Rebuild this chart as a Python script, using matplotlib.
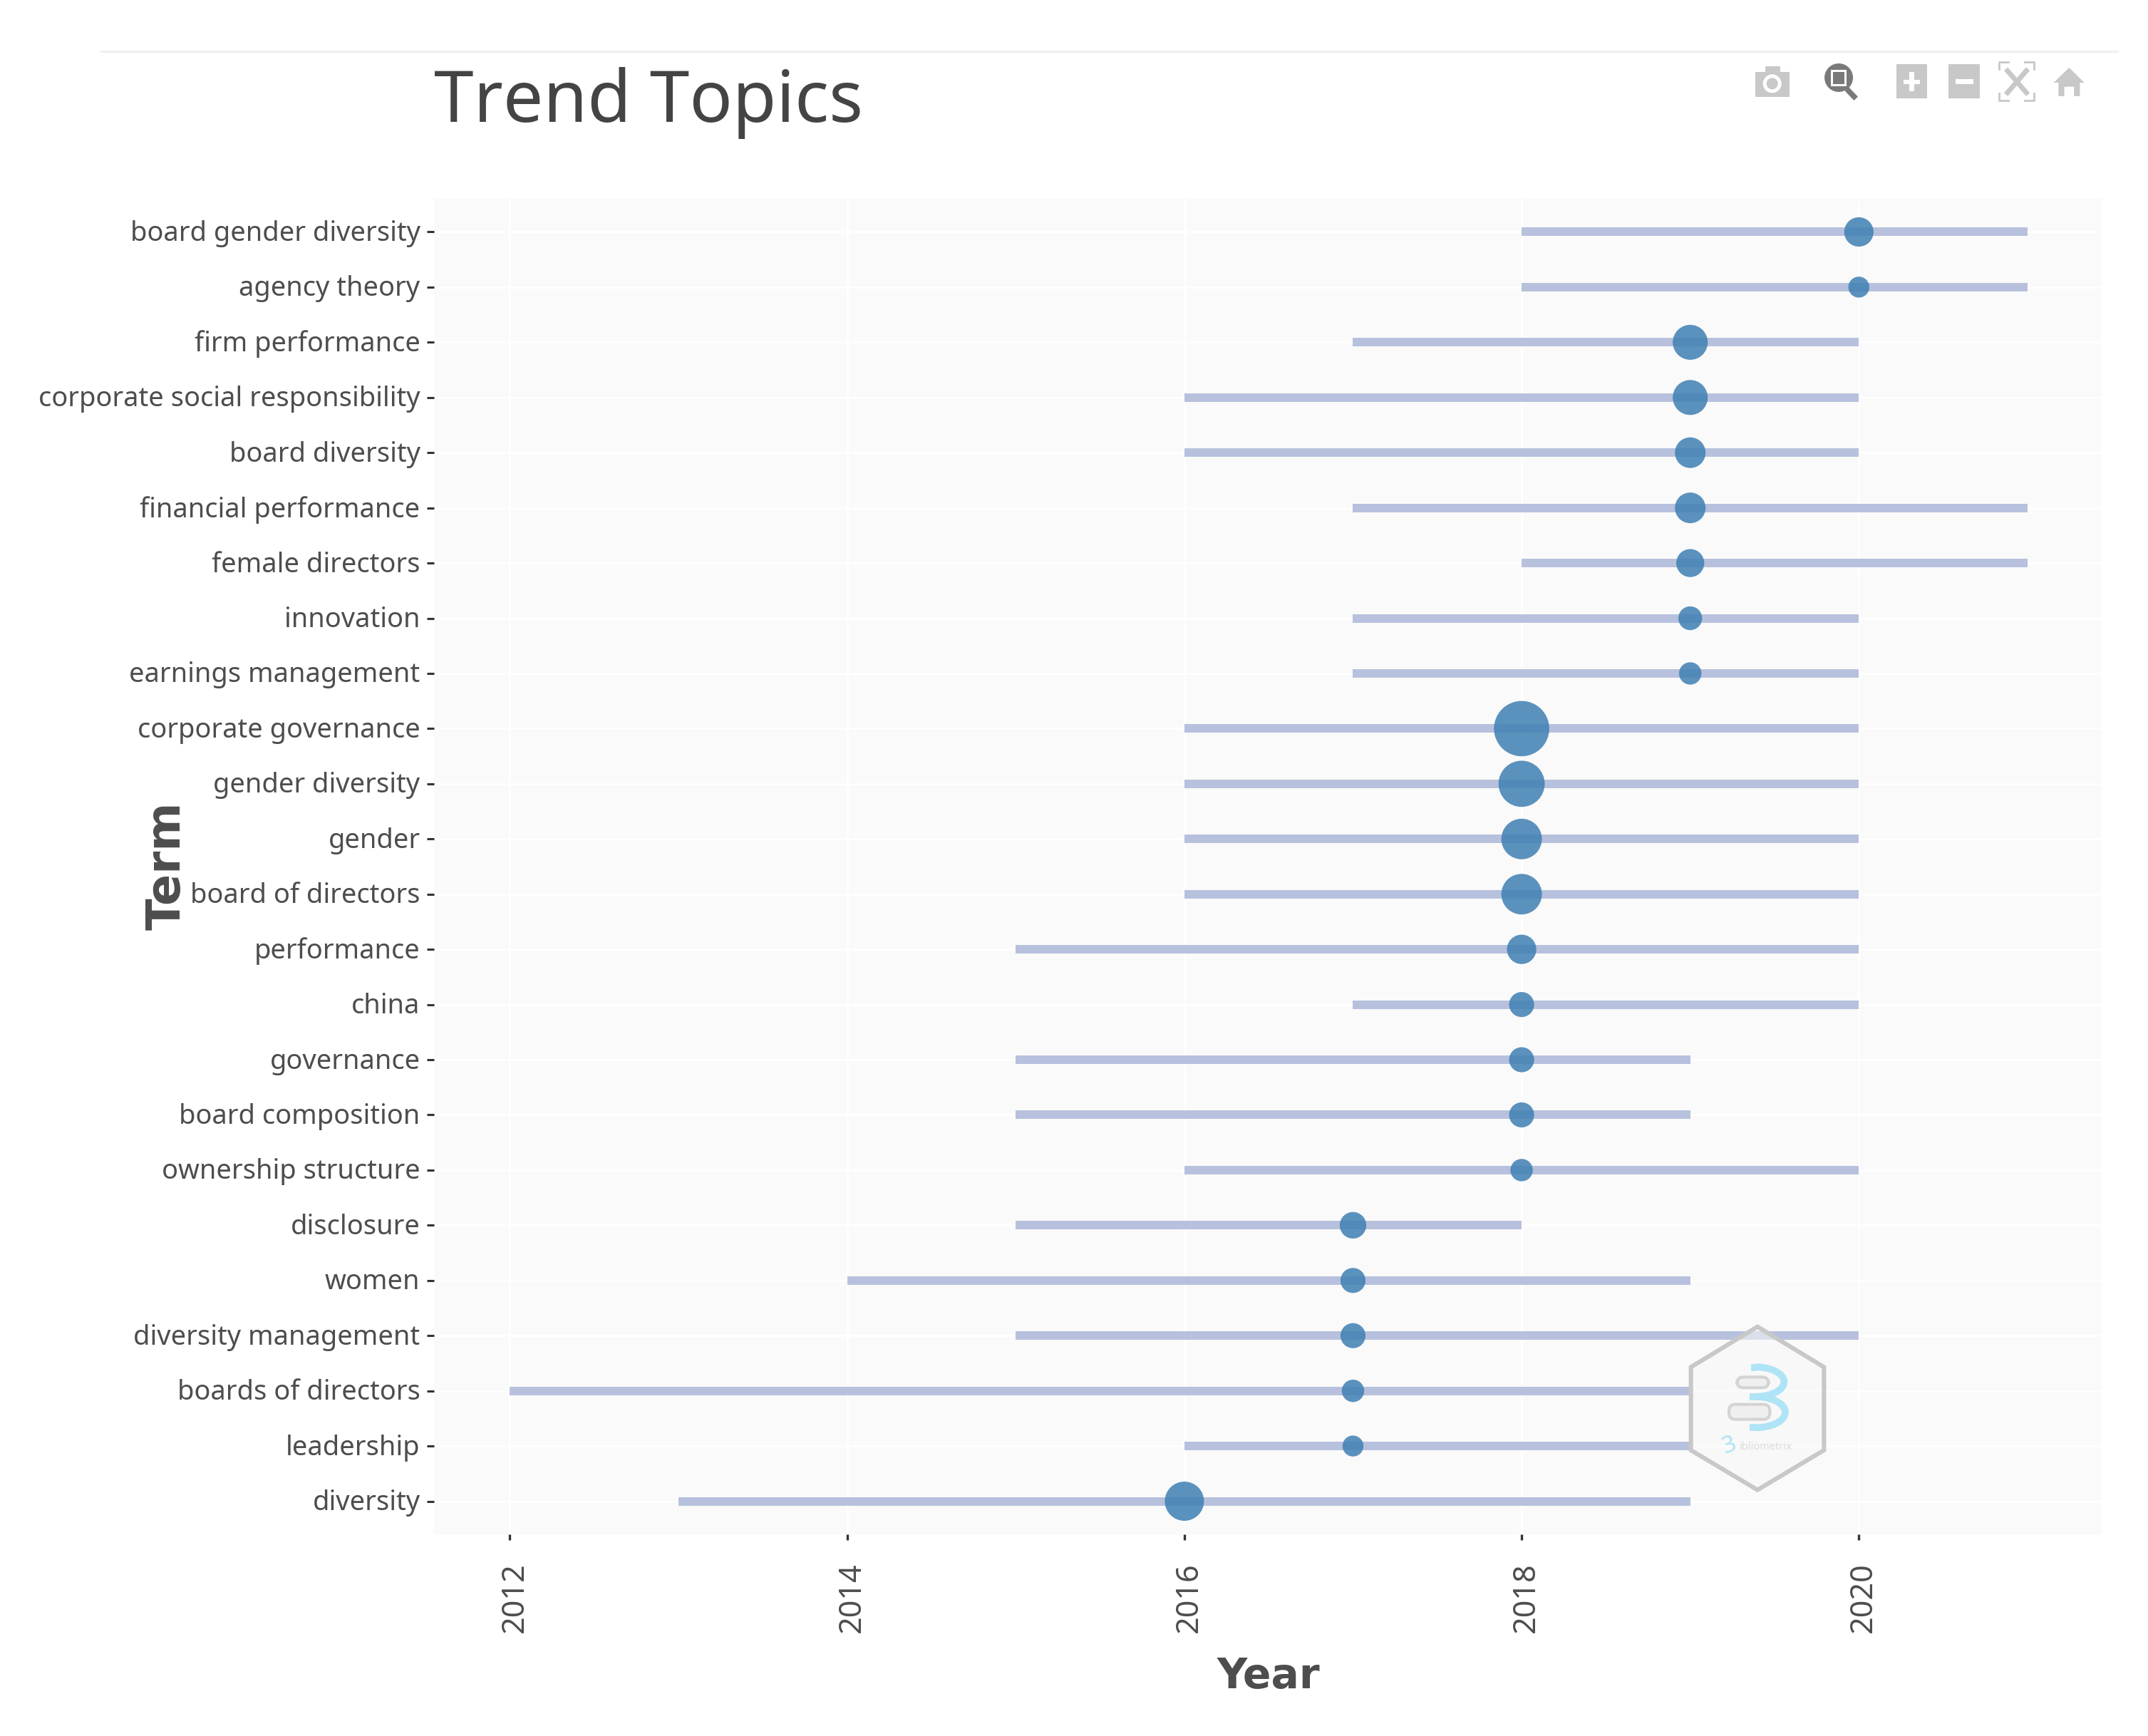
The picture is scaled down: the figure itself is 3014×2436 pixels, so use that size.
import matplotlib
matplotlib.use("Agg")
import matplotlib.pyplot as plt
from matplotlib.patches import Polygon, Rectangle, Circle, FancyBboxPatch, Arc
from matplotlib.transforms import ScaledTranslation

#terms from top to bottom of the chart
terms = ["board gender diversity", "agency theory", "firm performance",
         "corporate social responsibility", "board diversity", "financial performance",
         "female directors", "innovation", "earnings management", "corporate governance",
         "gender diversity", "gender", "board of directors", "performance", "china",
         "governance", "board composition", "ownership structure", "disclosure", "women",
         "diversity management", "boards of directors", "leadership", "diversity"]
year_start = [2018, 2018, 2017, 2016, 2016, 2017, 2018, 2017, 2017, 2016, 2016, 2016,
              2016, 2015, 2017, 2015, 2015, 2016, 2015, 2014, 2015, 2012, 2016, 2013]
year_end = [2021, 2021, 2020, 2020, 2020, 2021, 2021, 2020, 2020, 2020, 2020, 2020,
            2020, 2020, 2020, 2019, 2019, 2020, 2018, 2019, 2020, 2019, 2019, 2019]
year_median = [2020, 2020, 2019, 2019, 2019, 2019, 2019, 2019, 2019, 2018, 2018, 2018,
               2018, 2018, 2018, 2018, 2018, 2018, 2017, 2017, 2017, 2017, 2017, 2016]
#term frequency, only an estimate from the bubble areas
freq = [55, 28, 78, 78, 60, 60, 50, 36, 32, 195, 136, 105,
        105, 55, 40, 40, 40, 32, 45, 40, 40, 32, 28, 98]
year_ticks = [2012, 2014, 2016, 2018, 2020]

W, H = 3014, 2436
DPI = 100
TEXT_FONT = ["Noto Sans", "DejaVu Sans"]
TEXT_COLOR = "#4d4d4d"

fig = plt.figure(figsize=(W / DPI, H / DPI), dpi=DPI, facecolor="white")
ax = fig.add_axes([609 / W, 1 - 2153 / H, (2949 - 609) / W, (2153 - 279) / H])
ax.set_facecolor("#fafafa")

ypos = list(range(len(terms) - 1, -1, -1))
ax.hlines(ypos, year_start, year_end, color="#b7c1dd", linewidth=8.6, zorder=3)
ax.scatter(year_median, ypos, s=[16 * f for f in freq], color="#3f7fb3", alpha=0.85,
           linewidths=0, zorder=4)

ax.set_xlim(2011.55, 2021.44)
ax.set_ylim(-0.6, 23.6)
ax.grid(True, color="white", linewidth=2, zorder=1)
ax.set_axisbelow(True)
for s in ax.spines.values():
    s.set_visible(False)

ax.set_xticks(year_ticks)
ax.set_xticklabels(year_ticks, rotation=90, fontsize=31, color=TEXT_COLOR, family=TEXT_FONT)
ax.set_yticks(ypos)
ax.set_yticklabels(terms, fontsize=27.4, color=TEXT_COLOR, family=TEXT_FONT)
ax.tick_params(axis="x", length=6, width=2.4, color="#333333", pad=22)
ax.tick_params(axis="y", length=7, width=2.2, color="#333333", pad=7)
#plotly leaves the rotated year labels a little right of the tick
shift = ScaledTranslation(7 / DPI, 0, fig.dpi_scale_trans)
for lab in ax.get_xticklabels():
    lab.set_transform(lab.get_transform() + shift)
#term labels sit a touch above their ticks
shift_up = ScaledTranslation(0, 2 / DPI, fig.dpi_scale_trans)
for lab in ax.get_yticklabels():
    lab.set_transform(lab.get_transform() + shift_up)

fig.text(609 / W, 1 - 171 / H, "Trend Topics", fontsize=72, color="#444444",
         family=TEXT_FONT, ha="left", va="baseline")
fig.text(1780 / W, 1 - 2353 / H, "Year", fontsize=42, fontweight="bold", color=TEXT_COLOR,
         family="DejaVu Sans", ha="center", va="center")
fig.text(235 / W, 1 - 1215 / H, "Term", fontsize=47, fontweight="bold", color=TEXT_COLOR,
         family="DejaVu Sans", rotation=90, ha="center", va="center")

#overlay in pixel coords for the plotly toolbar, top rule and the logo
over = fig.add_axes([0, 0, 1, 1], zorder=10)
over.set_xlim(0, W)
over.set_ylim(H, 0)
over.axis("off")
over.patch.set_alpha(0)
over.plot([140, 2972], [72, 72], color="#eef1f1", linewidth=2.4, solid_capstyle="butt")


def tb(x, y):
    #toolbar zoom crop to pixel
    return 2300 + x / 2.196, 40 + y / 3


def tb_rect(x0, y0, x1, y1, color):
    (a, b), (c, d) = tb(x0, y0), tb(x1, y1)
    over.add_patch(Rectangle((a, b), c - a, d - b, facecolor=color, edgecolor="none"))


ICON = "#c8c8c8"
DARK = "#7a7a7a"
#camera
tb_rect(358, 182, 463, 288, ICON)
tb_rect(388, 158, 435, 185, ICON)
over.add_patch(Circle(tb(410, 232), 13, facecolor="white", edgecolor="none"))
over.add_patch(Circle(tb(410, 232), 8, facecolor=ICON, edgecolor="none"))
#zoom
over.add_patch(Circle(tb(615, 207), 20, facecolor=DARK, edgecolor="none"))
over.plot(*zip(tb(640, 255), tb(668, 295)), color=DARK, linewidth=5.5, solid_capstyle="butt")
tb_rect(590, 175, 640, 243, "white")
tb_rect(598, 183, 632, 235, DARK)
#plus and minus
tb_rect(793, 150, 888, 295, ICON)
tb_rect(815, 215, 866, 235, "white")
tb_rect(833, 183, 848, 265, "white")
tb_rect(953, 150, 1050, 295, ICON)
tb_rect(975, 213, 1030, 235, "white")
#autoscale
for x0, y0, dx, dy in [(1110, 142, 1, 1), (1217, 142, -1, 1), (1110, 303, 1, -1), (1217, 303, -1, -1)]:
    over.plot(*zip(tb(x0 + 28 * dx, y0), tb(x0, y0), tb(x0, y0 + 30 * dy)), color=ICON, linewidth=2)
over.plot(*zip(tb(1135, 178), tb(1193, 270)), color=ICON, linewidth=5)
over.plot(*zip(tb(1193, 178), tb(1135, 270)), color=ICON, linewidth=5)
#home
over.add_patch(Polygon([tb(1277, 228), tb(1325, 165), tb(1372, 228), tb(1358, 228), tb(1358, 285),
                        tb(1340, 285), tb(1340, 245), tb(1310, 245), tb(1310, 285), tb(1292, 285),
                        tb(1292, 228)], facecolor=ICON, edgecolor="none"))


def lg(x, y):
    #logo zoom crop to pixel
    return 2300 + x / 3, 1850 + y / 3


hex_pts = [lg(498, 35), lg(778, 205), lg(778, 555), lg(498, 722), lg(218, 555), lg(218, 205)]
over.add_patch(Polygon(hex_pts, closed=True, facecolor="#f8f8f8", alpha=0.55, edgecolor="none"))
over.add_patch(Polygon(hex_pts, closed=True, facecolor="none", edgecolor="#c8c8c8", linewidth=4.4,
                       joinstyle="miter"))
#the two books
for x0, y0, x1, y1 in [(412, 247, 545, 292), (378, 362, 550, 425)]:
    a, b = lg(x0, y0)
    c, d = lg(x1, y1)
    over.add_patch(FancyBboxPatch((a, b), c - a, d - b, boxstyle="round,pad=0,rounding_size=9",
                                  facecolor="#efefef", edgecolor="#d4d4d4", linewidth=3))
#the blue B
BLUE = "#aee4f6"
over.add_patch(Arc(lg(490, 267), 120 / 3 * 2, 125 / 3, theta1=-90, theta2=90, color=BLUE, linewidth=7))
over.add_patch(Arc(lg(490, 395), 125 / 3 * 2, 130 / 3, theta1=-90, theta2=90, color=BLUE, linewidth=7))
over.plot(*zip(lg(470, 207), lg(495, 207)), color=BLUE, linewidth=7, solid_capstyle="butt")
over.plot(*zip(lg(465, 330), lg(495, 330)), color=BLUE, linewidth=7, solid_capstyle="butt")
over.plot(*zip(lg(465, 458), lg(495, 458)), color=BLUE, linewidth=7, solid_capstyle="butt")
over.text(*lg(380, 535), "3", color=BLUE, fontsize=24, family=TEXT_FONT, ha="center", va="center",
          rotation=20)
over.text(*lg(533, 540), "ibliometrix", color="#dcdcdc", fontsize=10.5, family=TEXT_FONT, ha="center",
          va="center")

fig.savefig("out.png", dpi=DPI)
